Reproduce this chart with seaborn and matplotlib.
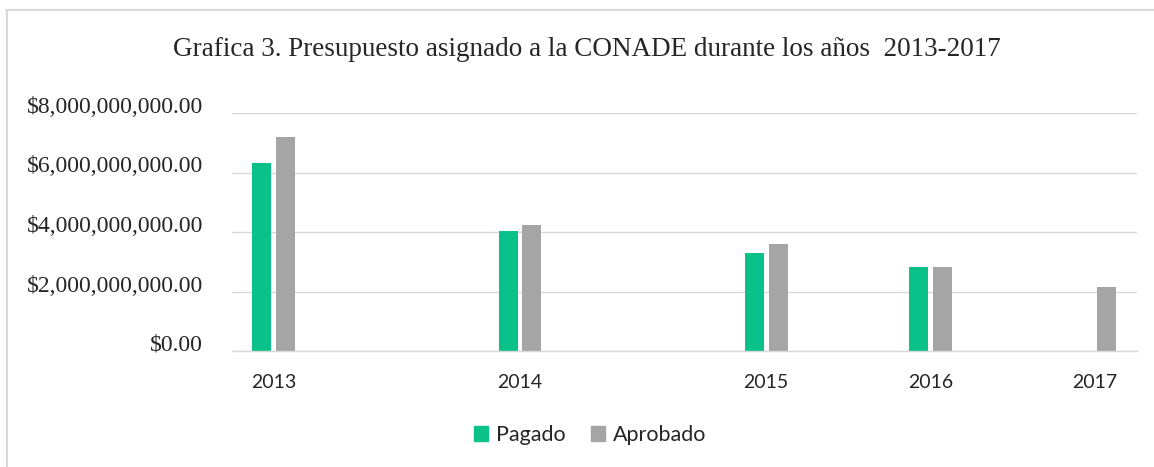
import numpy as np
import pandas as pd
import seaborn as sns
import matplotlib.pyplot as plt
from matplotlib.lines import Line2D
from matplotlib.ticker import FuncFormatter

years = [2013, 2014, 2015, 2016, 2017]
pagado = [6.31e9, 4.03e9, 3.28e9, 2.81e9, np.nan]
aprobado = [7.18e9, 4.24e9, 3.61e9, 2.83e9, 2.16e9]
series_names = ["Pagado", "Aprobado"]
titulo = "Grafica 3. Presupuesto asignado a la CONADE durante los años  2013-2017"

# the original chart spaces the years unevenly
year_pos = {2013: 0, 2014: 1.5, 2015: 3, 2016: 4, 2017: 5}

df = pd.DataFrame({"year": years, "Pagado": pagado, "Aprobado": aprobado})
df = df.melt(id_vars="year", var_name="serie", value_name="monto")
df["pos"] = df["year"].map(year_pos)

sns.set_style("white")
plt.rcParams["font.family"] = ["Liberation Serif", "DejaVu Sans"]

fig = plt.figure(figsize=(11.54, 4.67), dpi=100)
ax = fig.add_axes([232 / 1154, 1 - 351 / 467, (1137 - 232) / 1154, (351 - 113) / 467])

colors = {"Pagado": "#0BC18A", "Aprobado": "#A5A5A5"}
sns.barplot(data=df, x="pos", y="monto", hue="serie", hue_order=series_names,
            palette=colors, saturation=1, native_scale=True, width=0.29, gap=0.2,
            linewidth=0, ax=ax, legend=False)

ax.set_xlim(-0.255, 5.26)
ax.set_ylim(0, 8e9)
ax.set_yticks([0, 2e9, 4e9, 6e9, 8e9])
ax.yaxis.set_major_formatter(FuncFormatter(lambda v, p: "${:,.2f}".format(v)))
ax.grid(axis="y", color="#D9D9D9", linewidth=1.0)
ax.set_axisbelow(True)
for s in ["top", "right", "left"]:
    ax.spines[s].set_visible(False)
ax.spines["bottom"].set_color("#D9D9D9")
ax.spines["bottom"].set_linewidth(1.0)

ax.set_xticks([year_pos[y] for y in years])
ax.set_xticklabels([str(y) for y in years], family=["Lato", "DejaVu Sans"], fontsize=14)
ax.tick_params(axis="x", length=0, pad=16.5)
ax.tick_params(axis="y", length=0, pad=21, labelsize=17)
for lab in ax.get_yticklabels():
    lab.set_va("baseline")
ax.set_xlabel("")
ax.set_ylabel("")

fig.text(587 / 1154, 1 - 49 / 467, titulo, ha="center", va="center", fontsize=19.5)

handles = [plt.Rectangle((0, 0), 1, 1, color=colors[s]) for s in series_names]
fig.legend(handles, series_names, loc="center", bbox_to_anchor=(590 / 1154, 1 - 435 / 467),
           ncol=2, frameon=False, handlelength=0.65, handleheight=0.65,
           handletextpad=0.35, columnspacing=1.2,
           prop={"family": ["Lato", "DejaVu Sans"], "size": 15.5})

# light frame around the chart
fig.add_artist(Line2D([6 / 1154, 1], [1 - 10 / 467, 1 - 10 / 467], color="#D9D9D9", linewidth=1.5))
fig.add_artist(Line2D([6.5 / 1154, 6.5 / 1154], [0, 1 - 10 / 467], color="#D9D9D9", linewidth=1.5))

fig.savefig("out.png", dpi=100)
